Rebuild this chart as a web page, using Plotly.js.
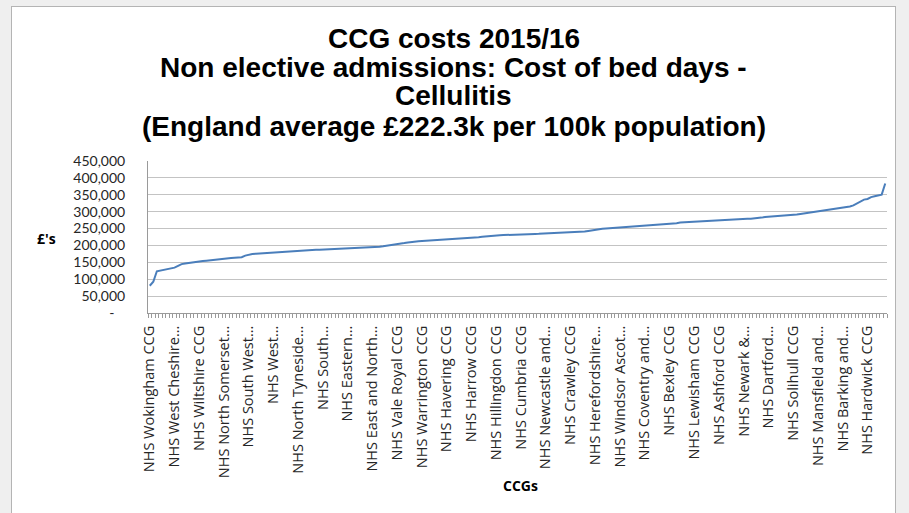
<!DOCTYPE html>
<html>
<head>
<meta charset="utf-8">
<script src="https://cdn.plot.ly/plotly-3.0.1.min.js"></script>
<style>
  html, body { margin: 0; padding: 0; width: 909px; height: 513px; overflow: hidden; background: #efefef; }
  #frame { position: absolute; left: 11px; top: 6px; width: 885px; height: 520px; background: #ffffff; border: 1px solid #b4b4b4; box-sizing: border-box; }
  #chart { position: absolute; left: 0; top: 0; width: 909px; height: 513px; }
</style>
</head>
<body>
<div id="frame"></div>
<div id="chart"></div>
<script>
// Cost of cellulitis bed days per 100k population, one value per CCG, sorted ascending (£)
const costs = [
  80800, 92500, 123600, 125900, 127200, 129400, 131800, 134300, 139600, 144800,
  146700, 148500, 150900, 152600, 153400, 154100, 155000, 155800, 156700, 157600,
  158900, 159800, 161400, 162800, 163900, 164500, 165100, 169800, 173200, 174600,
  175700, 176500, 177300, 178100, 178800, 179500, 180200, 180900, 181600, 182200,
  182800, 183300, 184000, 184700, 185500, 186200, 186700, 187100, 187500, 187900,
  188300, 188700, 189100, 189500, 189900, 190400, 191000, 191500, 192100, 192700,
  193300, 193800, 194400, 195000, 195600, 196300, 197400, 198700, 200200, 201900,
  203500, 205200, 207000, 208900, 210600, 211700, 212300, 212900, 213500, 214100,
  214700, 215300, 216000, 216600, 217300, 217900, 218600, 219200, 219900, 220600,
  221300, 222100, 223200, 224400, 225600, 226800, 227900, 228700, 229400, 230000,
  230600, 231200, 231800, 232200, 232500, 232800, 233100, 233400, 233700, 234000,
  234300, 234700, 235100, 235500, 235900, 236400, 236900, 237400, 237900, 238400,
  238900, 239400, 240000, 241300, 243100, 245200, 247400, 248600, 249400, 250100,
  250800, 251500, 252200, 252900, 253600, 254300, 255000, 255700, 256400, 257000,
  257600, 258100, 258700, 259400, 260100, 260800, 261600, 262400, 263300, 265400,
  267600, 268300, 268900, 269400, 269900, 270300, 270800, 271200, 271900, 272700,
  273500, 274300, 275100, 275900, 276500, 277000, 277500, 278000, 278500, 278900,
  279300, 279800, 280600, 282400, 284300, 285000, 285400, 285800, 286300, 287300,
  288400, 289500, 290600, 291800, 293300, 294900, 296600, 298400, 300300, 302300,
  303600, 304500, 305400, 307000, 308800, 310200, 311600, 313100, 315600, 318700,
  323900, 330800, 335700, 337600, 343200, 345800, 347500, 350400, 383200
];

// CCG names shown on the category axis (every 7th CCG is labelled)
const ccgLabels = [
  "NHS Wokingham CCG", "NHS West Cheshire…", "NHS Wiltshire CCG", "NHS North Somerset…",
  "NHS South West…", "NHS West…", "NHS North Tyneside…", "NHS South…", "NHS Eastern…",
  "NHS East and North…", "NHS Vale Royal CCG", "NHS Warrington CCG", "NHS Havering CCG",
  "NHS Harrow CCG", "NHS Hillingdon CCG", "NHS Cumbria CCG", "NHS Newcastle and…",
  "NHS Crawley CCG", "NHS Herefordshire…", "NHS Windsor Ascot…", "NHS Coventry and…",
  "NHS Bexley CCG", "NHS Lewisham CCG", "NHS Ashford CCG", "NHS Newark &…",
  "NHS Dartford…", "NHS Solihull CCG", "NHS Mansfield and…", "NHS Barking and…",
  "NHS Hardwick CCG"
];
const labelEvery = 7;

// Value axis ticks
const yTickVals = [0, 50000, 100000, 150000, 200000, 250000, 300000, 350000, 400000, 450000];
const yTickText = ["-\u00a0\u00a0\u00a0", "50,000", "100,000", "150,000", "200,000", "250,000",
                   "300,000", "350,000", "400,000", "450,000"];

const titleLines = [
  "CCG costs 2015/16",
  "Non elective admissions: Cost of bed days -",
  "Cellulitis",
  "(England average £222.3k per 100k population)"
];

const xPos = costs.map((_, i) => i);
const labelPos = ccgLabels.map((_, k) => k * labelEvery);

const trace = {
  x: xPos,
  y: costs,
  type: 'scatter',
  mode: 'lines',
  line: { color: '#4a7ebb', width: 2 },
  hoverinfo: 'y'
};

const titleFont = { family: 'Liberation Sans, Arial, sans-serif', size: 28, color: '#000000', weight: 'bold' };
// vertical centres of the four title lines, in plot-height units above the x axis
const titleY = [1.809, 1.615, 1.428, 1.226];

const annotations = titleLines.map((t, k) => ({
  text: t, xref: 'paper', yref: 'paper', x: 0.414, y: titleY[k],
  xanchor: 'center', yanchor: 'middle', showarrow: false, font: titleFont
}));
annotations.push({
  text: "£'s", xref: 'paper', yref: 'paper', x: -0.138, y: 0.487,
  xanchor: 'center', yanchor: 'middle', showarrow: false,
  font: { family: 'Open Sans, sans-serif', size: 14, color: '#000000', weight: 'bold' }
});
annotations.push({
  text: "CCGs", xref: 'paper', yref: 'paper', x: 0.504, y: -1.138,
  xanchor: 'center', yanchor: 'middle', showarrow: false,
  font: { family: 'Open Sans, sans-serif', size: 14, color: '#000000', weight: 'bold' }
});

const layout = {
  width: 909,
  height: 513,
  margin: { l: 148, r: 22, t: 161, b: 200, pad: 0 },
  paper_bgcolor: 'rgba(0,0,0,0)',
  plot_bgcolor: 'rgba(0,0,0,0)',
  showlegend: false,
  xaxis: {
    range: [-0.5, costs.length - 0.5],
    tickmode: 'array',
    tickvals: labelPos,
    ticktext: ccgLabels,
    tickangle: -90,
    ticks: '',
    showgrid: false,
    zeroline: false,
    showline: true,
    linecolor: '#9a9a9a',
    linewidth: 1,
    tickfont: { family: 'Open Sans, sans-serif', size: 14.5, color: '#262626' },
    ticklabelstandoff: 6,
    minor: { tickmode: 'linear', tick0: -0.5, dtick: 1, ticks: 'outside', ticklen: 4, tickwidth: 1, tickcolor: '#9a9a9a', showgrid: false },
    fixedrange: true
  },
  yaxis: {
    range: [0, 450000],
    tickmode: 'array',
    tickvals: yTickVals,
    ticktext: yTickText,
    ticks: '',
    showgrid: true,
    gridcolor: '#c3c3c3',
    gridwidth: 1,
    zeroline: false,
    showline: true,
    linecolor: '#9a9a9a',
    linewidth: 1,
    tickfont: { family: 'Lato, sans-serif', size: 14, color: '#262626' },
    ticklabelstandoff: 19,
    fixedrange: true
  },
  annotations: annotations
};

Plotly.newPlot('chart', [trace], layout, { displayModeBar: false, staticPlot: true });
</script>
</body>
</html>
